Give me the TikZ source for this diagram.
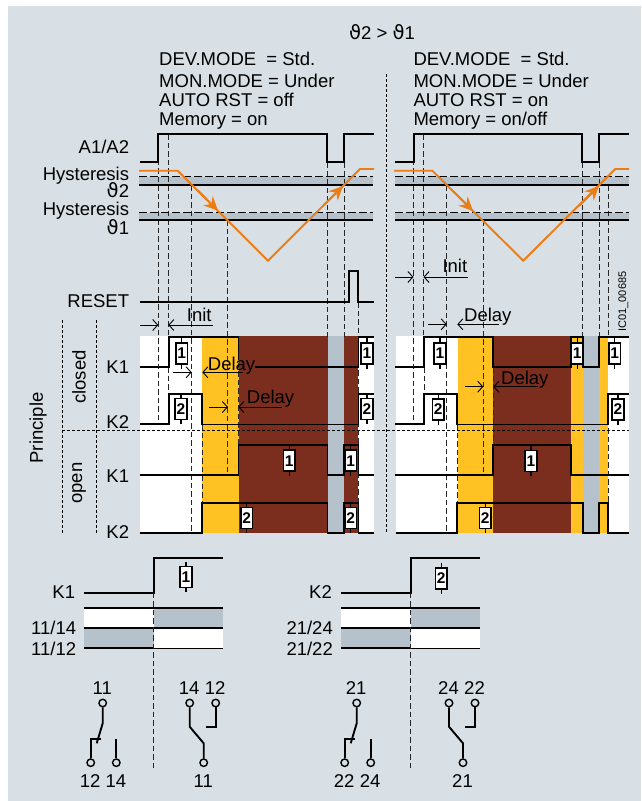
\documentclass[tikz,border=0pt]{standalone}
\usepackage{fontspec}
\setmainfont{Liberation Sans}
\newfontfamily\thetafont{DejaVu Sans}
\usetikzlibrary{arrows.meta}
\definecolor{panelbg}{HTML}{D8E0E5}
\definecolor{bandgrey}{HTML}{B5C1CB}
\definecolor{relayyellow}{HTML}{FFC222}
\definecolor{relaybrown}{HTML}{7B2D1E}
\definecolor{templine}{HTML}{EC7C14}
\newcommand{\thv}{{\thetafont\fontsize{19.5}{20}\selectfont\char"03D1}}
\tikzset{
  txt/.style={font=\fontsize{18.5}{20}\selectfont,inner sep=0pt},
  small/.style={font=\fontsize{11}{12}\selectfont,inner sep=0pt},
  trace/.style={line width=1.9pt,line join=miter},
  guide/.style={line width=0.9pt,dash pattern=on 5.5pt off 3pt,black!85},
  dotline/.style={line width=1.4pt,dash pattern=on 2.5pt off 2.5pt},
  measure/.style={line width=0.9pt,{Straight Barb[length=5pt,width=11pt]}-},
  temp/.style={line width=1.9pt,templine},
  coilbox/.style={draw,fill=white,line width=1.7pt,minimum width=11.5pt,minimum height=21pt,inner sep=0pt,font=\fontsize{15.5}{16}\bfseries\selectfont},
  term/.style={circle,draw,fill=panelbg,line width=1.4pt,minimum size=7.5pt,inner sep=0pt},
}
\begin{document}
\begin{tikzpicture}[x=1pt,y=-1pt]
\useasboundingbox (0,0) rectangle (641,801);
\fill[panelbg] (8,6) rectangle (641,801);

% fields of the two time charts
\fill[bandgrey] (139,176.7) rectangle (373,185);
\fill[bandgrey] (139,212.7) rectangle (373,219.7);
\fill[bandgrey] (395,176.7) rectangle (629,185);
\fill[bandgrey] (395,212.7) rectangle (629,219.7);
\fill[white] (140,336) rectangle (374,533);
\fill[relayyellow] (202.3,336) rectangle (239,533);
\fill[relaybrown] (239,336) rectangle (358.3,533);
\fill[bandgrey] (327.5,336) rectangle (344,533);
\fill[white] (396,336) rectangle (629,533);
\fill[relayyellow] (457.7,336) rectangle (608,533);
\fill[relaybrown] (493.3,336) rectangle (571,533);
\fill[bandgrey] (582.7,336) rectangle (599.3,533);

% guides
\foreach \xa/\ya/\yb in {158.3/134/423,168.3/134/337,191.7/185/533,227.7/220/475,327.3/162/337,344/162/337,
  358.3/302/533,238.3/337/445,202.3/424/503,168.7/367/394,
  413.3/134/423,423.3/134/337,446.7/185/533,483.3/220/475,582.3/162/337,599/162/337,
  608.3/185/337,608.3/394/503,457.7/424/503,493.3/367/445,424/367/394}
  \draw[guide] (\xa,\ya) -- (\xa,\yb);
\draw[dotline] (62,430.3) -- (629,430.3);
\draw[dotline] (62.3,320) -- (62.3,533);
\draw[dotline] (96.3,320) -- (96.3,533);
\draw[dotline] (386.7,74) -- (386.7,533);

% thresholds
\foreach \xa/\xb in {139/373,395/629} {
  \draw[line width=0.9pt,dash pattern=on 8pt off 3pt] (\xa,176.7) -- (\xb,176.7);
  \draw[line width=0.9pt,dash pattern=on 8pt off 3pt] (\xa,212.7) -- (\xb,212.7);
  \draw[trace] (\xa,185) -- (\xb,185);
  \draw[trace] (\xa,219.7) -- (\xb,219.7);
}

% supply, reset and temperature
\draw[trace] (140,162) -- (158.3,162) -- (158.3,134.3) -- (327.3,134.3) -- (327.3,162) -- (344,162) -- (344,134.3) -- (374,134.3);
\draw[trace] (395.3,162) -- (414,162) -- (414,134.3) -- (582.3,134.3) -- (582.3,162) -- (599,162) -- (599,134.3) -- (629,134.3);
\draw[trace] (140,301.7) -- (349,301.7) -- (349,271) -- (358.3,271) -- (358.3,301.7) -- (374,301.7);
\draw[temp] (139,170.7) -- (177.7,170.7) -- (268,260.7) -- (360,169) -- (374,169);
\draw[temp] (394,170.7) -- (432.3,170.7) -- (523.3,260.7) -- (615.3,169) -- (629,169);
\foreach \xa/\ya/\xb/\yb in {198/190.5/218/210.7,323/206/343/186,453/191/473/211,579/206/599/186}
  \draw[temp,-{Stealth[length=14pt,width=13pt]}] (\xa,\ya) -- (\xb,\yb);

% relay traces, left
\draw[trace] (140,367) -- (168.7,367) -- (168.7,336.7) -- (238.5,336.7) -- (238.5,360);
\draw[trace] (255,367) -- (358.5,367) -- (358.5,336.7) -- (374,336.7);
\draw[trace] (140,424) -- (168.7,424) -- (168.7,394.3) -- (202.3,394.3) -- (202.3,424.5) -- (358.5,424.5) -- (358.5,394.3) -- (374,394.3);
\draw[trace] (140,475) -- (238.5,475) -- (238.5,445) -- (327.5,445) -- (327.5,475) -- (344,475) -- (344,445) -- (358.5,445) -- (358.5,475) -- (374,475);
\draw[trace] (140,532.7) -- (202.3,532.7) -- (202.3,502.7) -- (327.5,502.7) -- (327.5,532.7) -- (344,532.7) -- (344,502.7) -- (358.5,502.7) -- (358.5,532.7) -- (374,532.7);

% relay traces, right
\draw[trace] (395,367) -- (424,367) -- (424,336.7) -- (493.3,336.7) -- (493.3,367) -- (571,367) -- (571,336.7) -- (582.7,336.7) -- (582.7,367) -- (599.3,367) -- (599.3,336.7) -- (629,336.7);
\draw[trace] (395,424) -- (424,424) -- (424,394.3) -- (457,394.3) -- (457,424.5) -- (608,424.5) -- (608,394.3) -- (629,394.3);
\draw[trace] (395,475) -- (493.3,475) -- (493.3,445) -- (571,445) -- (571,475) -- (629,475);
\draw[trace] (396,532.7) -- (457,532.7) -- (457,502.7) -- (582.7,502.7) -- (582.7,532.7) -- (599.3,532.7) -- (599.3,502.7) -- (608,502.7) -- (608,532.7) -- (629,532.7);

% time spans
\foreach \xa/\xb/\xc/\xd/\ya in {140/158.3/168.3/212.7/325,173/191.7/202.3/243/372.3,209/228/238.3/281.7/407,
  395/413.5/423.5/467.7/277,428.3/446.7/457.3/499.3/324.3,465/483.3/493.3/537.7/386.7} {
  \draw[measure] (\xb,\ya) -- (\xa,\ya);
  \draw[measure] (\xc,\ya) -- (\xd,\ya);
}
\node[txt,anchor=base west] (initl) at (186.7,321) {Init};
\node[txt,anchor=base west] (initr) at (442.3,272.7) {Init};
\node[txt,anchor=base west] (delaya) at (207.7,370) {Delay};
\node[txt,anchor=base west] (delayb) at (246.7,403) {Delay};
\node[txt,anchor=base west] (delayc) at (464,321.7) {Delay};
\node[txt,anchor=base west] (delayd) at (501,384) {Delay};

% contact tables
\foreach \xl/\xm/\xr/\ta/\tb/\tc in {84.3/153.7/223/K1/11/1,341/410.7/480.3/K2/21/2} {
  \fill[white] (\xl,608.3) rectangle (\xm,628);
  \fill[bandgrey] (\xm,608.3) rectangle (\xr,628);
  \fill[bandgrey] (\xl,628) rectangle (\xm,648.3);
  \fill[white] (\xm,628) rectangle (\xr,648.3);
  \draw[trace] (\xl,592.7) -- (\xm,592.7) -- (\xm,558.3) -- (\xr,558.3);
  \draw[trace] (\xl,608.3) -- (\xr,608.3);
  \draw[trace] (\xl,628) -- (\xr,628);
  \draw[trace] (\xl,648.3) -- (\xm,648.3);
  \draw[line width=0.5pt] (\xm,648.3) -- (\xr,648.3);
  \draw[guide] (\xm,592.7) -- (\xm,770);
  \node[txt,anchor=east,xshift=-9pt] (name\tc) at (\xl,591.7) {\ta};
  \node[txt,anchor=east,xshift=-8pt] (no\tc) at (\xl,627.7) {\tb/\tc4};
  \node[txt,anchor=east,xshift=-8pt] (nc\tc) at (\xl,649) {\tb/\tc2};
}

% coils of the charts
\foreach \cx/\cy/\cl [count=\ci] in {181.7/353.3/1,181/409/2,367/353.3/1,367/409/2,289.3/460.7/1,350.7/460.7/1,246.7/518/2,350.7/518/2,
  440/353.3/1,438.3/409.3/2,577.3/353.3/1,614.7/353.3/1,618/409.3/2,531/461/1,485.3/518/2,186/577/1,441.3/578.3/2} {
  \node[coilbox] (coil\ci) at (\cx,\cy) {\cl};
  \draw[line width=1.1pt] (coil\ci.north) -- ++(0,-4);
  \draw[line width=1.1pt] (coil\ci.south) -- ++(0,4);
}

% contacts, rest position
\foreach \xc/\xa/\xb/\tc in {102.7/90.7/116.3/1,356.7/344.7/370.7/2} {
  \node[term] (com\tc) at (\xc,703) {};
  \node[term] (ncl\tc) at (\xa,762.7) {};
  \node[term] (nol\tc) at (\xb,762.7) {};
  \coordinate (bend\tc) at (\xc,723.3);
  \coordinate (tip\tc) at (\xc-6,743.3);
  \coordinate (seat\tc) at (\xa,739);
  \coordinate (seatend\tc) at (\xa+10,739);
  \coordinate (nolend\tc) at (\xb,739);
  \draw[trace] (com\tc) -- (bend\tc) -- (tip\tc);
  \draw[trace] (ncl\tc) -- (seat\tc) -- (seatend\tc);
  \draw[trace] (nol\tc) -- (nolend\tc);
  \node[txt] (lcom\tc) at (\xc-0.5,688.3) {\tc1};
  \node[txt] (lncl\tc) at (\xa-0.5,780.7) {\tc2};
  \node[txt] (lnol\tc) at (\xb-0.5,780.7) {\tc4};
}

% contacts, operated position
\foreach \xa/\xb/\xc/\tc in {189.7/215.7/203.7/1,449/475/463/2} {
  \node[term] (opno\tc) at (\xa,703) {};
  \node[term] (opnc\tc) at (\xb,703) {};
  \node[term] (opcom\tc) at (\xc,762.7) {};
  \coordinate (opbend\tc) at (\xa,726.7);
  \coordinate (optip\tc) at (\xc,743.3);
  \coordinate (opseat\tc) at (\xb,726.7);
  \coordinate (opend\tc) at (\xb-10,726.7);
  \draw[trace] (opno\tc) -- (opbend\tc) -- (optip\tc) -- (opcom\tc);
  \draw[trace] (opnc\tc) -- (opseat\tc) -- (opend\tc);
  \node[txt] (lopno\tc) at (\xa-0.5,688.3) {\tc4};
  \node[txt] (lopnc\tc) at (\xb-0.5,688.3) {\tc2};
  \node[txt] (lopcom\tc) at (\xc-0.5,780.7) {\tc1};
}

% header
\node[txt,anchor=center] (cond) at (382,32) {\thv 2 > \thv 1};
\node[txt,anchor=base west] (modea) at (159,65) {DEV.MODE\ \ = Std.};
\node[txt,anchor=base west] (mona) at (159,87.3) {MON.MODE = Under};
\node[txt,anchor=base west] (rsta) at (159,106) {AUTO RST = off};
\node[txt,anchor=base west] (mema) at (159,125) {Memory = on};
\node[txt,anchor=base west] (modeb) at (413.3,65) {DEV.MODE\ \ = Std.};
\node[txt,anchor=base west] (monb) at (413.3,87.3) {MON.MODE = Under};
\node[txt,anchor=base west] (rstb) at (413.3,106) {AUTO RST = on};
\node[txt,anchor=base west] (memb) at (413.3,125) {Memory = on/off};

% signal names
\node[txt,anchor=east] (supply) at (129.3,146.7) {A1/A2};
\node[txt,anchor=east] (hysa) at (129.3,175.5) {Hysteresis};
\node[txt,anchor=east] (thb) at (129.3,190.5) {\thv 2};
\node[txt,anchor=east] (hysb) at (129.3,211) {Hysteresis};
\node[txt,anchor=east] (tha) at (129.3,226.7) {\thv 1};
\node[txt,anchor=east] (reset) at (129.3,300.7) {RESET};
\node[txt,anchor=east] (ka) at (129.3,367) {K1};
\node[txt,anchor=east] (kb) at (129.3,422) {K2};
\node[txt,anchor=east] (kc) at (129.3,476) {K1};
\node[txt,anchor=east] (kd) at (129.3,532) {K2};
\node[txt,rotate=90] (principle) at (38,428) {Principle};
\node[txt,rotate=90] (closed) at (79,377) {closed};
\node[txt,rotate=90] (open) at (79,483) {open};
\node[small,rotate=90,anchor=west] (ident) at (623.3,331.7) {IC01\_00685};
\end{tikzpicture}
\end{document}
